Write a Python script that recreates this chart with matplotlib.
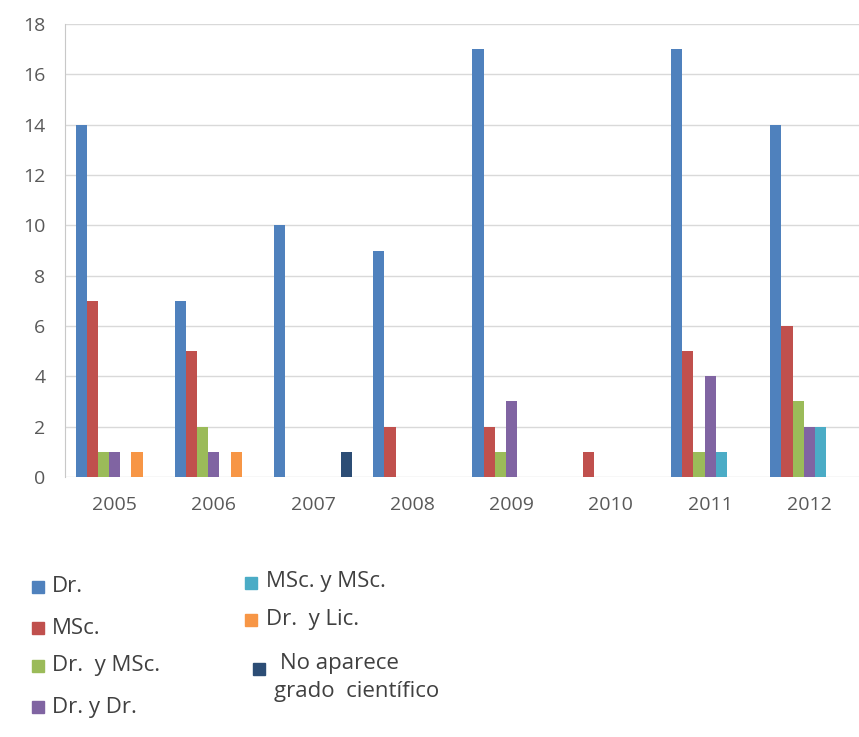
import matplotlib.pyplot as plt
from matplotlib.patches import Rectangle
import numpy as np

# datos
anios = ['2005', '2006', '2007', '2008', '2009', '2010', '2011', '2012']
series = ['Dr.', 'MSc.', 'Dr.  y MSc.', 'Dr. y Dr.', 'MSc. y MSc.', 'Dr.  y Lic.',
          'No aparece', 'grado  científico']
dr = [14, 7, 10, 9, 17, 0, 17, 14]
msc = [7, 5, 0, 2, 2, 1, 5, 6]
dr_msc = [1, 2, 0, 0, 1, 0, 1, 3]
dr_dr = [1, 1, 0, 0, 3, 0, 4, 2]
msc_msc = [0, 0, 0, 0, 0, 0, 1, 2]
dr_lic = [1, 1, 0, 0, 0, 0, 0, 0]
no_aparece = [0, 0, 1, 0, 0, 0, 0, 0]
valores = [dr, msc, dr_msc, dr_dr, msc_msc, dr_lic, no_aparece]
colores = ['#4F81BD', '#C0504D', '#9BBB59', '#8064A2', '#4BACC6', '#F79646', '#2C4D75']

plt.rcParams['font.family'] = ['Open Sans', 'DejaVu Sans']

fig = plt.figure(figsize=(8.59, 7.37), dpi=100)
ax = fig.add_axes([0.0757, 0.3528, 0.9243, 0.6146])

x = np.arange(len(anios))
ancho = 0.1127
for k in range(len(valores)):
    desp = (k - 3) * ancho
    ax.bar(x + desp, valores[k], ancho, color=colores[k], zorder=3)

ax.set_xlim(-0.5, 7.5)
ax.set_ylim(0, 18)
ax.set_yticks(np.arange(0, 19, 2))
ax.set_xticks(x)
ax.set_xticklabels(anios)
ax.tick_params(axis='both', length=0, colors='#595959', labelsize=14)
ax.tick_params(axis='x', pad=14)
ax.tick_params(axis='y', pad=14)
ax.grid(axis='y', color='#D9D9D9', linewidth=1, zorder=0)
for lado in ['top', 'right', 'bottom']:
    ax.spines[lado].set_visible(False)
ax.spines['left'].set_color('#C8C8C8')

# leyenda manual en dos columnas (posiciones en pixeles)
W, H = 859.0, 737.0
marcas = [(32, 587), (32, 628), (32, 666), (32, 707), (245, 583), (245, 620), (253, 669)]
textos = [(52, 587), (52, 628), (52, 666), (52, 707), (266, 582), (266, 620), (280, 664),
          (274, 692)]
for k in range(len(colores)):
    px, py = marcas[k]
    fig.patches.append(Rectangle((px / W, 1 - (py + 6) / H), 12 / W, 12 / H,
                                 transform=fig.transFigure, color=colores[k]))
for k in range(len(series)):
    tx, ty = textos[k]
    fig.text(tx / W, 1 - ty / H, series[k], fontsize=16, color='#404040',
             va='center', ha='left')

fig.savefig('out.png', dpi=100)
